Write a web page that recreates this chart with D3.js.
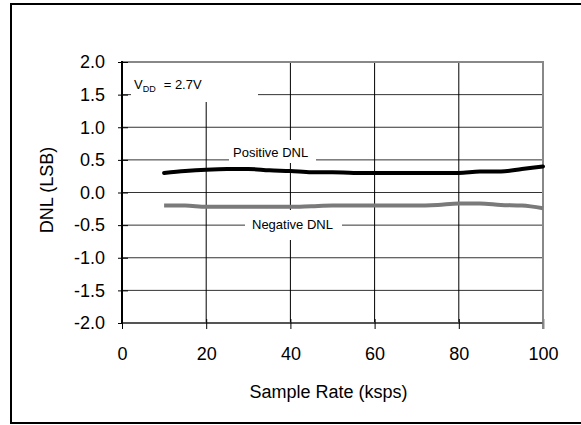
<!DOCTYPE html>
<html>
<head>
<meta charset="utf-8">
<script src="https://cdn.jsdelivr.net/npm/d3@7"></script>
<style>
  html, body { margin: 0; padding: 0; background: #fff; }
  svg { display: block; }
  text { font-family: "Liberation Sans", Arial, sans-serif; fill: #000; }
</style>
</head>
<body>
<svg id="chart" width="581" height="425"></svg>
<script>
// ---- data ----
const sampleRate = [10, 15, 20, 25, 30, 35, 40, 45, 50, 55, 60, 65, 70, 75, 80, 85, 90, 95, 100];
const positiveDNL = [0.30, 0.33, 0.35, 0.36, 0.36, 0.34, 0.33, 0.31, 0.31, 0.30, 0.30, 0.30, 0.30, 0.30, 0.30, 0.32, 0.32, 0.36, 0.40];
const negativeDNL = [-0.20, -0.20, -0.22, -0.22, -0.22, -0.22, -0.22, -0.21, -0.20, -0.20, -0.20, -0.20, -0.20, -0.19, -0.17, -0.17, -0.19, -0.20, -0.24];
const xTicks = [0, 20, 40, 60, 80, 100];
const yTicks = [-2.0, -1.5, -1.0, -0.5, 0.0, 0.5, 1.0, 1.5, 2.0];
const xTitle = "Sample Rate (ksps)";
const yTitle = "DNL (LSB)";

const svg = d3.select("#chart");
const W = 581, H = 425;
const m = { left: 122, right: 543, top: 62, bottom: 323 };

// outer frame (right side runs off the image)
svg.append("path")
  .attr("d", `M 590 4 L 11 4 L 11 423 L 590 423`)
  .attr("fill", "none").attr("stroke", "#000").attr("stroke-width", 2);

const x = d3.scaleLinear().domain([0, 100]).range([m.left, m.right]);
const y = d3.scaleLinear().domain([-2, 2]).range([m.bottom, m.top]);

const g = svg.append("g");

// horizontal gridlines
g.selectAll(".hg").data(yTicks.filter(v => v > -2 && v < 2)).join("line")
  .attr("x1", m.left).attr("x2", m.right)
  .attr("y1", d => y(d)).attr("y2", d => y(d))
  .attr("stroke", "#333").attr("stroke-width", 1);

// vertical gridlines
g.selectAll(".vg").data(xTicks.filter(v => v > 0 && v < 100)).join("line")
  .attr("x1", d => x(d)).attr("x2", d => x(d))
  .attr("y1", m.top).attr("y2", m.bottom)
  .attr("stroke", "#000").attr("stroke-width", 1);

// top and right borders (gray)
g.append("line").attr("x1", m.left).attr("x2", m.right + 1).attr("y1", m.top).attr("y2", m.top)
  .attr("stroke", "#888").attr("stroke-width", 2);
g.append("line").attr("x1", m.right).attr("x2", m.right).attr("y1", m.top).attr("y2", m.bottom + 6)
  .attr("stroke", "#888").attr("stroke-width", 2);

// label boxes (white, interrupting the grid)
const labelBoxes = [
  { x0: 131, x1: 258, y0: 63, y1: 102 },
  { x0: 229, x1: 316, y0: 140, y1: 163 },
  { x0: 245, x1: 342, y0: 210, y1: 240 }
];
g.selectAll(".lb").data(labelBoxes).join("rect")
  .attr("x", d => d.x0).attr("y", d => d.y0)
  .attr("width", d => d.x1 - d.x0).attr("height", d => d.y1 - d.y0)
  .attr("fill", "#fff");

// axes
const yAxis = d3.axisLeft(y).tickValues(yTicks).tickFormat(d3.format(".1f")).tickSize(4).tickPadding(13);
const yg = svg.append("g").attr("transform", `translate(${m.left},0)`).call(yAxis);
yg.select(".domain").attr("stroke", "#000").attr("stroke-width", 2)
  .attr("d", `M0,${m.top - 1}V${m.bottom + 1}`);
yg.selectAll(".tick line").attr("stroke", "#000").attr("x2", -4).attr("x1", 6);
yg.selectAll(".tick text").attr("font-size", 18).attr("font-family", "Liberation Sans, Arial, sans-serif")
  .text(d => d3.format(".1f")(d).replace("−", "-"));

const xAxis = d3.axisBottom(x).tickValues(xTicks).tickFormat(d3.format("d")).tickSize(6).tickPadding(18);
const xg = svg.append("g").attr("transform", `translate(0,${m.bottom})`).call(xAxis);
xg.select(".domain").attr("stroke", "#555").attr("stroke-width", 2)
  .attr("d", `M${m.left},0H${m.right}`);
xg.selectAll(".tick line").attr("stroke", "#000").attr("y1", -4);
xg.selectAll(".tick line").filter(d => d === 100).attr("stroke", "#888").attr("stroke-width", 2);
xg.selectAll(".tick text").attr("font-size", 18).attr("font-family", "Liberation Sans, Arial, sans-serif");

// data lines
const line = d3.line().x(d => x(d[0])).y(d => y(d[1])).curve(d3.curveMonotoneX);
svg.append("path")
  .datum(sampleRate.map((s, i) => [s, negativeDNL[i]]))
  .attr("d", line).attr("fill", "none").attr("stroke", "#7a7a7a").attr("stroke-width", 4);
svg.append("path")
  .datum(sampleRate.map((s, i) => [s, positiveDNL[i]]))
  .attr("d", line).attr("fill", "none").attr("stroke", "#000").attr("stroke-width", 4)
  .attr("stroke-linecap", "round");

// annotations
const vdd = svg.append("text").attr("x", 134).attr("y", 89).attr("font-size", 13);
vdd.append("tspan").text("V");
vdd.append("tspan").attr("font-size", 9).attr("dy", 3).text("DD");
vdd.append("tspan").attr("dy", -3).attr("dx", 8).text("= 2.7V");

svg.append("text").attr("x", 233).attr("y", 157).attr("font-size", 13).text("Positive DNL");
svg.append("text").attr("x", 252).attr("y", 229).attr("font-size", 13).text("Negative DNL");

// axis titles
svg.append("text").attr("x", (m.left + m.right) / 2 - 4).attr("y", 398)
  .attr("text-anchor", "middle").attr("font-size", 18).text(xTitle);
svg.append("text").attr("transform", `translate(53, 190) rotate(-90)`)
  .attr("text-anchor", "middle").attr("font-size", 18).text(yTitle);
</script>
</body>
</html>
